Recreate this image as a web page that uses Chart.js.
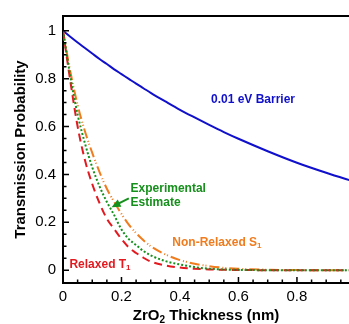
<!DOCTYPE html>
<html>
<head>
<meta charset="utf-8">
<script src="https://cdn.jsdelivr.net/npm/chart.js@4.4.1/dist/chart.umd.min.js"></script>
<style>
  html, body { margin: 0; padding: 0; background: #fff; }
  #wrap { width: 349px; height: 324px; }
</style>
</head>
<body>
<div id="wrap"><canvas id="chart"></canvas></div>
<script>
// ZrO2 thickness (nm)
const thickness = [0, 0.025, 0.05, 0.075, 0.1, 0.125, 0.15, 0.175, 0.2, 0.225, 0.25, 0.275,
                   0.3, 0.35, 0.4, 0.45, 0.5, 0.55, 0.6, 0.7, 0.8, 0.9, 1.0];

// transmission probability for each curve
const barrier      = [1, 0.975, 0.951, 0.928, 0.905, 0.882, 0.861, 0.839, 0.819, 0.799, 0.779, 0.76,
                      0.741, 0.705, 0.67, 0.638, 0.607, 0.577, 0.549, 0.497, 0.449, 0.407, 0.368];
const nonRelaxedS1 = [1, 0.83, 0.69, 0.58, 0.49, 0.41, 0.34, 0.285, 0.235, 0.19, 0.155, 0.125,
                      0.1, 0.066, 0.042, 0.027, 0.017, 0.01, 0.006, 0.002, 0.0005, 0, 0];
const relaxedT1    = [1, 0.79, 0.6, 0.46, 0.36, 0.28, 0.215, 0.172, 0.13, 0.095, 0.072, 0.052,
                      0.036, 0.02, 0.011, 0.006, 0.003, 0.0015, 0.001, 0, 0, 0, 0];
const experimental = [1, 0.81, 0.65, 0.53, 0.43, 0.35, 0.285, 0.23, 0.17, 0.13, 0.105, 0.08,
                      0.062, 0.038, 0.024, 0.013, 0.006, 0.003, 0.0015, 0, 0, 0, 0];

const xTickValues = [0, 0.2, 0.4, 0.6, 0.8];
const yTickValues = [0, 0.2, 0.4, 0.6, 0.8, 1];

const FONT = "'Liberation Sans', Arial, Helvetica, sans-serif";
const BLUE = "#1010cc";
const RED = "#e3191f";
const ORANGE = "#f07c1e";
const GREEN = "#16901c";

const toPoints = (ys) => thickness.map((x, i) => ({ x: x, y: ys[i] }));

// draws text made of normal / subscript parts, left aligned, vertically centred at y
function drawParts(ctx, parts, x, y, size, color) {
    ctx.save();
    ctx.fillStyle = color;
    ctx.textBaseline = "middle";
    ctx.textAlign = "left";
    let cx = x;
    parts.forEach((p) => {
        const s = p.sub ? Math.round(size * 0.65) : size;
        ctx.font = "bold " + s + "px " + FONT;
        ctx.fillText(p.t, cx, p.sub ? y + size * 0.3 : y);
        cx += ctx.measureText(p.t).width;
    });
    ctx.restore();
    return cx - x;
}

function partsWidth(ctx, parts, size) {
    let w = 0;
    ctx.save();
    parts.forEach((p) => {
        const s = p.sub ? Math.round(size * 0.65) : size;
        ctx.font = "bold " + s + "px " + FONT;
        w += ctx.measureText(p.t).width;
    });
    ctx.restore();
    return w;
}

const decorations = {
    id: "decorations",
    afterDraw(chart) {
        const ctx = chart.ctx;
        const xs = chart.scales.x;
        const ys = chart.scales.y;
        const area = chart.chartArea;

        ctx.save();
        // top frame line
        ctx.strokeStyle = "#000";
        ctx.lineWidth = 2;
        ctx.beginPath();
        ctx.moveTo(area.left - 1, area.top);
        ctx.lineTo(area.right, area.top);
        ctx.stroke();

        // inward tick marks, major every 0.2, minor every 0.05
        ctx.lineWidth = 1.5;
        ctx.beginPath();
        for (let i = 0; i <= 20; i++) {
            const v = i * 0.05;
            const len = i % 4 === 0 ? 6 : 3.5;
            const py = ys.getPixelForValue(v);
            ctx.moveTo(area.left, py);
            ctx.lineTo(area.left + len, py);
            if (v < xs.max) {
                const px = xs.getPixelForValue(v);
                ctx.moveTo(px, area.bottom);
                ctx.lineTo(px, area.bottom - len);
            }
        }
        ctx.stroke();
        ctx.restore();

        // x axis title with subscript
        const xTitle = [{ t: "ZrO" }, { t: "2", sub: true }, { t: " Thickness (nm)" }];
        const w = partsWidth(ctx, xTitle, 15);
        drawParts(ctx, xTitle, (area.left + area.right) / 2 - w / 2, 316, 15, "#000");

        // curve labels
        drawParts(ctx, [{ t: "0.01 eV Barrier" }], xs.getPixelForValue(0.506), ys.getPixelForValue(0.712), 12, BLUE);
        drawParts(ctx, [{ t: "Experimental" }], xs.getPixelForValue(0.231), ys.getPixelForValue(0.342), 12, GREEN);
        drawParts(ctx, [{ t: "Estimate" }], xs.getPixelForValue(0.231), ys.getPixelForValue(0.284), 12, GREEN);
        drawParts(ctx, [{ t: "Non-Relaxed S" }, { t: "1", sub: true }], xs.getPixelForValue(0.374), ys.getPixelForValue(0.115), 12, ORANGE);
        drawParts(ctx, [{ t: "Relaxed T" }, { t: "1", sub: true }], xs.getPixelForValue(0.022), ys.getPixelForValue(0.025), 12, RED);

        // arrow from "Experimental Estimate" to the green curve
        const tx = xs.getPixelForValue(0.225), ty = ys.getPixelForValue(0.300);
        const hx = xs.getPixelForValue(0.166), hy = ys.getPixelForValue(0.263);
        const ang = Math.atan2(hy - ty, hx - tx);
        ctx.save();
        ctx.strokeStyle = GREEN;
        ctx.fillStyle = GREEN;
        ctx.lineWidth = 2;
        ctx.beginPath();
        ctx.moveTo(tx, ty);
        ctx.lineTo(hx - 6 * Math.cos(ang), hy - 6 * Math.sin(ang));
        ctx.stroke();
        ctx.beginPath();
        ctx.moveTo(hx, hy);
        ctx.lineTo(hx - 9 * Math.cos(ang) + 4 * Math.sin(ang), hy - 9 * Math.sin(ang) - 4 * Math.cos(ang));
        ctx.lineTo(hx - 9 * Math.cos(ang) - 4 * Math.sin(ang), hy - 9 * Math.sin(ang) + 4 * Math.cos(ang));
        ctx.closePath();
        ctx.fill();
        ctx.restore();
    }
};

const lineStyle = {
    pointRadius: 0,
    borderWidth: 2,
    fill: false,
    cubicInterpolationMode: "monotone"
};

new Chart(document.getElementById("chart"), {
    type: "line",
    data: {
        datasets: [
            { ...lineStyle, label: "Experimental Estimate", data: toPoints(experimental), borderColor: GREEN, borderDash: [2, 2] },
            { ...lineStyle, label: "Relaxed T1", data: toPoints(relaxedT1), borderColor: RED, borderDash: [8, 5] },
            { ...lineStyle, label: "Non-Relaxed S1", data: toPoints(nonRelaxedS1), borderColor: ORANGE, borderDash: [10, 3, 1, 2, 1, 3] },
            { ...lineStyle, label: "0.01 eV Barrier", data: toPoints(barrier), borderColor: BLUE }
        ]
    },
    options: {
        responsive: true,
        maintainAspectRatio: false,
        animation: false,
        layout: { padding: { top: 12, right: 0, left: 0, bottom: 0 } },
        plugins: {
            legend: { display: false },
            tooltip: { enabled: false }
        },
        scales: {
            x: {
                type: "linear",
                min: 0,
                max: 0.978,
                afterBuildTicks: (scale) => { scale.ticks = xTickValues.map((v) => ({ value: v })); },
                afterFit: (scale) => { scale.height = 41; },
                grid: { drawOnChartArea: false, drawTicks: false },
                border: { display: true, color: "#000", width: 2 },
                ticks: {
                    color: "#000",
                    padding: 5,
                    maxRotation: 0,
                    font: { family: FONT, size: 15 },
                    callback: (v) => String(v)
                }
            },
            y: {
                type: "linear",
                min: -0.0535,
                max: 1.0617,
                afterBuildTicks: (scale) => { scale.ticks = yTickValues.map((v) => ({ value: v })); },
                afterFit: (scale) => { scale.width = 63; },
                grid: { drawOnChartArea: false, drawTicks: false },
                border: { display: true, color: "#000", width: 2 },
                ticks: {
                    color: "#000",
                    padding: 7,
                    font: { family: FONT, size: 15 },
                    callback: (v) => String(v)
                },
                title: {
                    display: true,
                    text: "Transmission Probability",
                    color: "#000",
                    font: { family: FONT, size: 15, weight: "bold" },
                    padding: { top: 12, bottom: 0 }
                }
            }
        }
    },
    plugins: [decorations]
});
</script>
</body>
</html>
